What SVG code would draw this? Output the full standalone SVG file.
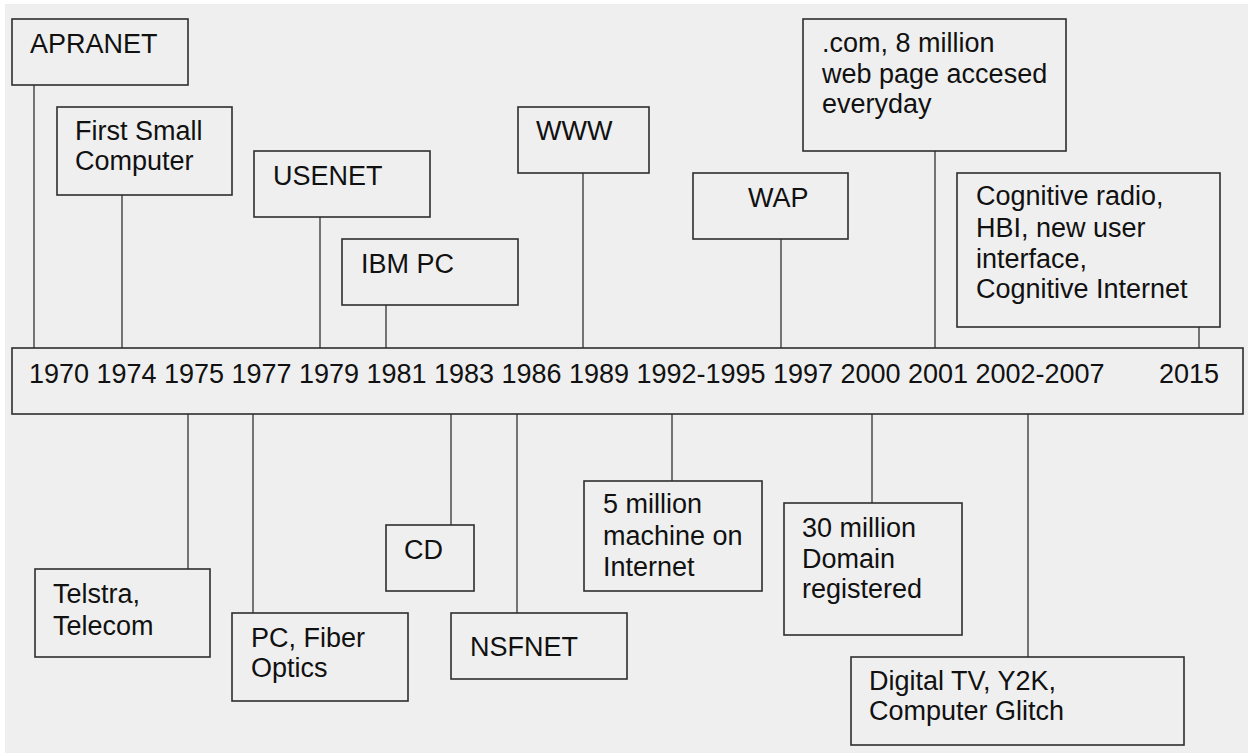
<svg xmlns="http://www.w3.org/2000/svg" width="1258" height="753" viewBox="0 0 1258 753">
<style>
.box{fill:#efefef;stroke:#2e2e2e;stroke-width:1.6}
.ln{stroke:#555;stroke-width:1.6;fill:none}
text{font-family:"Liberation Sans",Arial,sans-serif;font-size:27px;fill:#111}
</style>
<rect x="0" y="0" width="1258" height="753" fill="#ffffff"/>
<rect x="5" y="4" width="1243" height="749" fill="#efefef"/>
<g id="connectors">
<line class="ln" x1="34" y1="85" x2="34" y2="348"/>
<line class="ln" x1="122" y1="195" x2="122" y2="348"/>
<line class="ln" x1="320" y1="217" x2="320" y2="348"/>
<line class="ln" x1="386" y1="305" x2="386" y2="348"/>
<line class="ln" x1="583" y1="173" x2="583" y2="348"/>
<line class="ln" x1="781" y1="239" x2="781" y2="348"/>
<line class="ln" x1="935" y1="151" x2="935" y2="348"/>
<line class="ln" x1="1199" y1="327" x2="1199" y2="348"/>
<line class="ln" x1="188" y1="414" x2="188" y2="569"/>
<line class="ln" x1="253" y1="414" x2="253" y2="613"/>
<line class="ln" x1="451" y1="414" x2="451" y2="525"/>
<line class="ln" x1="517" y1="414" x2="517" y2="613"/>
<line class="ln" x1="672" y1="414" x2="672" y2="481"/>
<line class="ln" x1="872" y1="414" x2="872" y2="503"/>
<line class="ln" x1="1028" y1="414" x2="1028" y2="657"/>
</g>
<g id="timeline">
<rect class="box" x="12" y="348" width="1231" height="66"/>
<text x="29" y="383">1970</text>
<text x="96.5" y="383">1974</text>
<text x="164" y="383">1975</text>
<text x="231.5" y="383">1977</text>
<text x="299" y="383">1979</text>
<text x="366.5" y="383">1981</text>
<text x="434" y="383">1983</text>
<text x="501.5" y="383">1986</text>
<text x="569" y="383">1989</text>
<text x="636.5" y="383">1992-1995</text>
<text x="773" y="383">1997</text>
<text x="840.5" y="383">2000</text>
<text x="908" y="383">2001</text>
<text x="975.5" y="383">2002-2007</text>
<text x="1159" y="383">2015</text>
</g>
<g id="apranet">
<rect class="box" x="12" y="19" width="176" height="66"/>
<text x="30" y="53">APRANET</text>
</g>
<g id="first-small-computer">
<rect class="box" x="57" y="107" width="175" height="88"/>
<text x="75" y="140">First Small</text>
<text x="75" y="170">Computer</text>
</g>
<g id="usenet">
<rect class="box" x="254" y="151" width="176" height="66"/>
<text x="273" y="185">USENET</text>
</g>
<g id="ibm-pc">
<rect class="box" x="342" y="239" width="176" height="66"/>
<text x="361" y="273">IBM PC</text>
</g>
<g id="www">
<rect class="box" x="518" y="107" width="131" height="66"/>
<text x="536" y="140">WWW</text>
</g>
<g id="wap">
<rect class="box" x="693" y="173" width="155" height="66"/>
<text x="748" y="207">WAP</text>
</g>
<g id="dotcom">
<rect class="box" x="803" y="19" width="263" height="132"/>
<text x="822" y="52">.com, 8 million</text>
<text x="822" y="83">web page accesed</text>
<text x="822" y="113">everyday</text>
</g>
<g id="cognitive">
<rect class="box" x="957" y="173" width="263" height="154"/>
<text x="976" y="205">Cognitive radio,</text>
<text x="976" y="237">HBI, new user</text>
<text x="976" y="268">interface,</text>
<text x="976" y="298">Cognitive Internet</text>
</g>
<g id="telstra">
<rect class="box" x="35" y="569" width="175" height="88"/>
<text x="53" y="603">Telstra,</text>
<text x="53" y="635">Telecom</text>
</g>
<g id="pc-fiber">
<rect class="box" x="232" y="613" width="176" height="88"/>
<text x="251" y="647">PC, Fiber</text>
<text x="251" y="677">Optics</text>
</g>
<g id="cd">
<rect class="box" x="386" y="525" width="88" height="66"/>
<text x="404" y="559">CD</text>
</g>
<g id="nsfnet">
<rect class="box" x="451" y="613" width="176" height="66"/>
<text x="470" y="656">NSFNET</text>
</g>
<g id="five-million">
<rect class="box" x="584" y="481" width="178" height="110"/>
<text x="603" y="513">5 million</text>
<text x="603" y="545">machine on</text>
<text x="603" y="576">Internet</text>
</g>
<g id="thirty-million">
<rect class="box" x="784" y="503" width="178" height="132"/>
<text x="802" y="537">30 million</text>
<text x="802" y="568">Domain</text>
<text x="802" y="598">registered</text>
</g>
<g id="digital-tv">
<rect class="box" x="851" y="657" width="333" height="88"/>
<text x="869" y="690">Digital TV, Y2K,</text>
<text x="869" y="720">Computer Glitch</text>
</g>
</svg>
